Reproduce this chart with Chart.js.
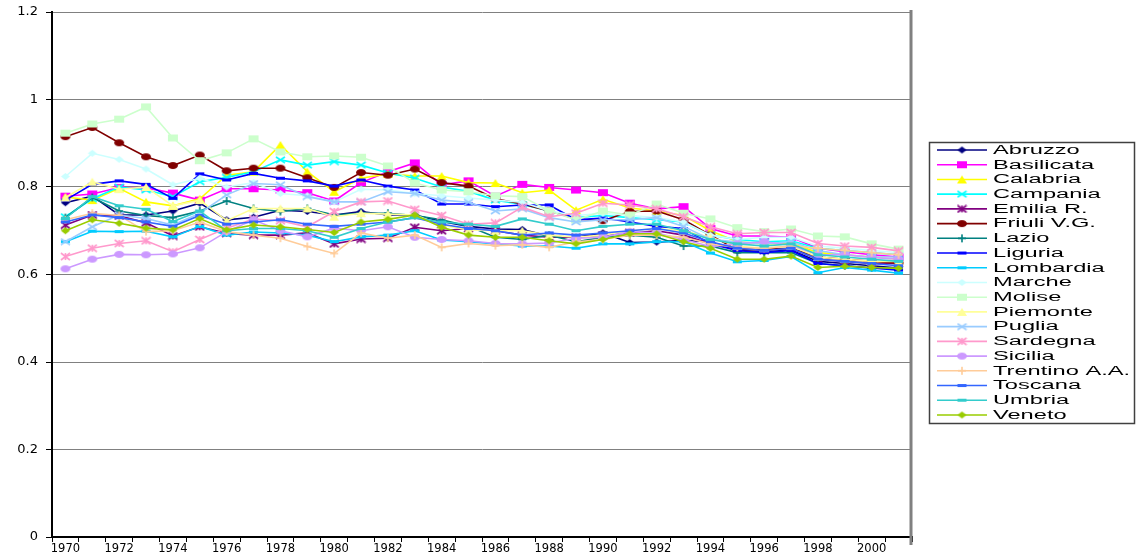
<!DOCTYPE html>
<html>
<head>
<meta charset="utf-8">
<script src="https://cdn.jsdelivr.net/npm/chart.js@4.4.1/dist/chart.umd.min.js"></script>
<style>
  html, body { margin: 0; padding: 0; background: #fff; }
  canvas { display: block; }
</style>
</head>
<body>
<canvas id="regioni" width="1136" height="555"></canvas>
<script>
// anni sull'asse x
var anni = [1970, 1971, 1972, 1973, 1974, 1975, 1976, 1977, 1978, 1979,
            1980, 1981, 1982, 1983, 1984, 1985, 1986, 1987, 1988, 1989,
            1990, 1991, 1992, 1993, 1994, 1995, 1996, 1997, 1998, 1999,
            2000, 2001];

// tick dell'asse y
var tickY = [0, 0.2, 0.4, 0.6, 0.8, 1, 1.2];

// valori, una serie per regione
var abruzzo    = [0.764,0.779,0.736,0.736,0.745,0.763,0.725,0.731,0.747,0.744,0.736,0.744,0.736,0.736,0.721,0.710,0.704,0.703,0.688,0.685,0.695,0.673,0.674,0.678,0.675,0.655,0.652,0.656,0.630,0.625,0.620,0.615];
var basilicata = [0.779,0.784,0.799,0.798,0.786,0.770,0.796,0.796,0.793,0.787,0.768,0.810,0.835,0.855,0.805,0.814,0.779,0.806,0.799,0.793,0.787,0.763,0.750,0.755,0.705,0.688,0.688,0.685,0.660,0.652,0.645,0.640];
var calabria   = [0.777,0.770,0.797,0.766,0.757,0.773,0.827,0.835,0.896,0.835,0.789,0.820,0.830,0.825,0.825,0.810,0.809,0.787,0.793,0.747,0.772,0.752,0.745,0.735,0.700,0.675,0.670,0.672,0.650,0.645,0.640,0.635];
var campania   = [0.732,0.773,0.800,0.793,0.778,0.812,0.822,0.835,0.862,0.850,0.858,0.850,0.832,0.820,0.800,0.790,0.770,0.760,0.745,0.730,0.735,0.730,0.725,0.720,0.690,0.680,0.675,0.677,0.660,0.655,0.650,0.645];
var emilia     = [0.713,0.736,0.734,0.718,0.688,0.709,0.694,0.690,0.690,0.695,0.670,0.681,0.683,0.708,0.700,0.705,0.700,0.690,0.685,0.685,0.690,0.695,0.700,0.690,0.670,0.660,0.655,0.660,0.635,0.630,0.625,0.625];
var friuli     = [0.915,0.936,0.901,0.869,0.849,0.873,0.837,0.843,0.843,0.821,0.799,0.833,0.827,0.841,0.810,0.802,0.773,0.761,0.745,0.727,0.723,0.744,0.745,0.725,0.690,0.656,0.658,0.660,0.640,0.635,0.630,0.626];
var lazio      = [0.730,0.776,0.745,0.735,0.730,0.745,0.768,0.751,0.744,0.751,0.736,0.740,0.740,0.735,0.725,0.710,0.685,0.680,0.690,0.675,0.685,0.690,0.685,0.665,0.665,0.650,0.650,0.650,0.625,0.620,0.615,0.615];
var liguria    = [0.770,0.806,0.814,0.806,0.774,0.830,0.816,0.831,0.820,0.814,0.802,0.816,0.802,0.793,0.761,0.761,0.755,0.759,0.759,0.725,0.729,0.720,0.710,0.705,0.670,0.655,0.650,0.655,0.625,0.620,0.615,0.610];
var lombardia  = [0.675,0.699,0.698,0.699,0.686,0.710,0.690,0.697,0.695,0.690,0.675,0.686,0.690,0.700,0.679,0.675,0.670,0.665,0.665,0.660,0.670,0.670,0.675,0.675,0.649,0.629,0.632,0.641,0.604,0.616,0.610,0.603];
var marche     = [0.824,0.877,0.863,0.841,0.805,0.820,0.800,0.810,0.785,0.780,0.766,0.795,0.793,0.785,0.780,0.775,0.770,0.765,0.745,0.735,0.740,0.735,0.730,0.720,0.690,0.680,0.685,0.685,0.665,0.660,0.655,0.650];
var molise     = [0.923,0.944,0.955,0.983,0.912,0.860,0.878,0.910,0.880,0.869,0.871,0.868,0.848,0.809,0.793,0.789,0.780,0.778,0.745,0.725,0.745,0.736,0.761,0.740,0.727,0.707,0.698,0.704,0.688,0.686,0.670,0.658];
var piemonte   = [0.776,0.812,0.795,0.800,0.757,0.770,0.723,0.751,0.751,0.751,0.732,0.740,0.738,0.736,0.713,0.702,0.700,0.700,0.690,0.685,0.690,0.700,0.705,0.700,0.685,0.665,0.660,0.665,0.640,0.635,0.630,0.630];
var puglia     = [0.675,0.709,0.736,0.728,0.713,0.740,0.782,0.808,0.805,0.778,0.766,0.766,0.789,0.785,0.770,0.765,0.745,0.750,0.730,0.720,0.725,0.725,0.730,0.710,0.680,0.675,0.670,0.675,0.655,0.645,0.640,0.640];
var sardegna   = [0.641,0.660,0.671,0.677,0.652,0.680,0.706,0.727,0.723,0.709,0.744,0.766,0.768,0.749,0.735,0.715,0.718,0.754,0.732,0.740,0.763,0.759,0.750,0.732,0.709,0.693,0.696,0.696,0.671,0.665,0.662,0.654];
var sicilia    = [0.613,0.635,0.646,0.645,0.647,0.661,0.698,0.725,0.700,0.686,0.706,0.700,0.709,0.685,0.680,0.677,0.671,0.670,0.672,0.683,0.685,0.698,0.695,0.680,0.664,0.670,0.675,0.667,0.645,0.645,0.639,0.635];
var trentino   = [0.725,0.740,0.735,0.698,0.700,0.720,0.698,0.690,0.683,0.664,0.648,0.695,0.683,0.690,0.662,0.671,0.666,0.668,0.662,0.675,0.680,0.690,0.690,0.685,0.670,0.662,0.660,0.665,0.660,0.655,0.650,0.645];
var toscana    = [0.720,0.736,0.730,0.720,0.710,0.735,0.715,0.720,0.725,0.715,0.710,0.715,0.720,0.730,0.715,0.705,0.700,0.690,0.695,0.690,0.695,0.700,0.705,0.695,0.675,0.660,0.655,0.660,0.635,0.630,0.625,0.620];
var umbria     = [0.728,0.778,0.757,0.749,0.721,0.745,0.700,0.705,0.705,0.700,0.685,0.705,0.720,0.730,0.720,0.715,0.710,0.727,0.715,0.700,0.710,0.715,0.715,0.700,0.680,0.670,0.665,0.670,0.645,0.640,0.635,0.630];
var veneto     = [0.700,0.725,0.717,0.706,0.702,0.728,0.702,0.713,0.709,0.703,0.696,0.720,0.726,0.736,0.708,0.690,0.685,0.685,0.677,0.670,0.680,0.693,0.693,0.675,0.660,0.635,0.635,0.642,0.616,0.619,0.616,0.614];

// piccoli marcatori disegnati a mano (un po' schiacciati, come in Excel)
function marcatore(tipo, colore, w, h) {
    var c = document.createElement('canvas');
    c.width = w + 2;
    c.height = h + 2;
    var g = c.getContext('2d');
    var cx = c.width / 2, cy = c.height / 2, rx = w / 2, ry = h / 2;
    g.fillStyle = colore;
    g.strokeStyle = colore;
    g.lineWidth = 1.6;
    g.beginPath();
    if (tipo === 'rombo') {
        g.moveTo(cx, cy - ry); g.lineTo(cx + rx, cy); g.lineTo(cx, cy + ry); g.lineTo(cx - rx, cy);
        g.closePath(); g.fill();
    } else if (tipo === 'quadrato') {
        g.fillRect(cx - rx, cy - ry, w, h);
    } else if (tipo === 'triangolo') {
        g.moveTo(cx, cy - ry); g.lineTo(cx + rx, cy + ry); g.lineTo(cx - rx, cy + ry);
        g.closePath(); g.fill();
    } else if (tipo === 'cerchio') {
        g.ellipse(cx, cy, rx, ry, 0, 0, Math.PI * 2); g.fill();
    } else if (tipo === 'x') {
        g.moveTo(cx - rx, cy - ry); g.lineTo(cx + rx, cy + ry);
        g.moveTo(cx + rx, cy - ry); g.lineTo(cx - rx, cy + ry); g.stroke();
    } else if (tipo === 'stella') {
        g.moveTo(cx - rx, cy - ry); g.lineTo(cx + rx, cy + ry);
        g.moveTo(cx + rx, cy - ry); g.lineTo(cx - rx, cy + ry);
        g.moveTo(cx, cy - ry); g.lineTo(cx, cy + ry); g.stroke();
    } else if (tipo === 'piu') {
        g.moveTo(cx, cy - ry); g.lineTo(cx, cy + ry);
        g.moveTo(cx - rx, cy); g.lineTo(cx + rx, cy); g.stroke();
    } else if (tipo === 'trattino') {
        g.fillRect(cx - rx, cy - 1.5, w, 3);
    }
    return c;
}

// etichetta, serie, colore, marcatore
var serie = [
    ['Abruzzo',       abruzzo,    '#000080', 'rombo'],
    ['Basilicata',    basilicata, '#FF00FF', 'quadrato'],
    ['Calabria',      calabria,   '#FFFF00', 'triangolo'],
    ['Campania',      campania,   '#00FFFF', 'x'],
    ['Emilia R.',     emilia,     '#800080', 'stella'],
    ['Friuli V.G.',   friuli,     '#800000', 'cerchio'],
    ['Lazio',         lazio,      '#008080', 'piu'],
    ['Liguria',       liguria,    '#0000FF', 'trattino'],
    ['Lombardia',     lombardia,  '#00CCFF', 'trattino'],
    ['Marche',        marche,     '#CCFFFF', 'rombo'],
    ['Molise',        molise,     '#CCFFCC', 'quadrato'],
    ['Piemonte',      piemonte,   '#FFFF99', 'triangolo'],
    ['Puglia',        puglia,     '#99CCFF', 'x'],
    ['Sardegna',      sardegna,   '#FF99CC', 'stella'],
    ['Sicilia',       sicilia,    '#CC99FF', 'cerchio'],
    ['Trentino A.A.', trentino,   '#FFCC99', 'piu'],
    ['Toscana',       toscana,    '#3366FF', 'trattino'],
    ['Umbria',        umbria,     '#33CCCC', 'trattino'],
    ['Veneto',        veneto,     '#99CC00', 'rombo']
];

var misure = { rombo: [9, 7], quadrato: [10, 7], triangolo: [10, 8], cerchio: [10, 7],
               x: [9, 6], stella: [9, 7], piu: [8, 8], trattino: [9, 3] };

var datasets = serie.map(function (s, i) {
    var m = misure[s[3]];
    return {
        label: s[0],
        data: s[1],
        borderColor: s[2],
        backgroundColor: s[2],
        borderWidth: 1.6,
        pointStyle: marcatore(s[3], s[2], m[0], m[1]),
        pointRadius: 4,
        pointHoverRadius: 4,
        tension: 0,
        order: serie.length - 1 - i   // l'ultima serie sta sopra, come in Excel
    };
});

// legenda con riquadro, linea + marcatore come in Excel
var legendaExcel = {
    id: 'legendaExcel',
    afterDraw: function (chart) {
        var ctx = chart.ctx;
        var x0 = 929, y0 = 142, w = 205, h = 281;
        ctx.save();
        ctx.strokeStyle = '#404040';
        ctx.lineWidth = 1.5;
        ctx.strokeRect(x0 + 0.5, y0 + 0.5, w, h);
        var passo = 14.72;
        chart.data.datasets.forEach(function (ds, i) {
            var y = 150 + i * passo;
            ctx.strokeStyle = ds.borderColor;
            ctx.lineWidth = 1.6;
            ctx.beginPath();
            ctx.moveTo(937, y);
            ctx.lineTo(987, y);
            ctx.stroke();
            var img = ds.pointStyle;
            ctx.drawImage(img, 962 - img.width / 2, y - img.height / 2);
            ctx.save();
            ctx.translate(993, y + 0.5);
            ctx.scale(1.97, 1);
            ctx.fillStyle = '#000';
            ctx.font = '12px "Liberation Sans", Arial, sans-serif';
            ctx.textBaseline = 'middle';
            ctx.fillText(ds.label, 0, 0);
            ctx.restore();
        });
        ctx.restore();
    }
};

// bordo destro grigio dell'area del grafico
var bordoDestro = {
    id: 'bordoDestro',
    afterDraw: function (chart) {
        var a = chart.chartArea, ctx = chart.ctx;
        ctx.save();
        ctx.strokeStyle = '#808080';
        ctx.lineWidth = 3;
        ctx.beginPath();
        ctx.moveTo(a.right - 1, a.top - 2);
        ctx.lineTo(a.right - 1, a.bottom + 8);
        ctx.stroke();
        ctx.restore();
    }
};

var ctx = document.getElementById('regioni').getContext('2d');
new Chart(ctx, {
    type: 'line',
    data: { labels: anni, datasets: datasets },
    plugins: [legendaExcel, bordoDestro],
    options: {
        responsive: false,
        animation: false,
        devicePixelRatio: 1,
        layout: { padding: { top: 12, right: 224, left: 0, bottom: 0 } },
        plugins: { legend: { display: false }, tooltip: { enabled: false } },
        scales: {
            x: {
                type: 'category',
                offset: true,
                afterFit: function (s) { s.height = 18; },
                grid: { offset: true, drawOnChartArea: false, drawTicks: true, tickLength: 5, tickColor: '#000' },
                border: { color: '#000', width: 2 },
                ticks: {
                    autoSkip: false, maxRotation: 0, padding: 0, color: '#000',
                    font: { family: '"DejaVu Sans", sans-serif', size: 11.5 },
                    callback: function (v, i) { return i % 2 === 0 ? String(anni[i]) : ''; }
                }
            },
            y: {
                min: tickY[0],
                max: tickY[tickY.length - 1],
                afterFit: function (s) { s.width = 52; s.paddingTop = 0; s.paddingBottom = 0; },
                afterBuildTicks: function (s) { s.ticks = tickY.map(function (v) { return { value: v }; }); },
                grid: { color: '#808080', lineWidth: 1, tickLength: 6, tickColor: '#000' },
                border: { color: '#000', width: 2 },
                ticks: {
                    padding: 8, color: '#000',
                    font: { family: '"DejaVu Sans", sans-serif', size: 13 },
                    callback: function (v) { return String(Number(v.toFixed(1))); }
                }
            }
        }
    }
});
</script>
</body>
</html>
